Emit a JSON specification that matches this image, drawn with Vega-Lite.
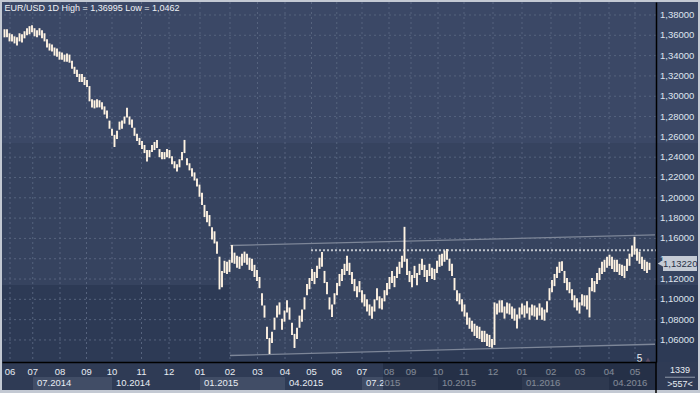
{
"$schema": "https://vega.github.io/schema/vega-lite/v6.json",
"width": 654, "height": 360,
"autosize": {"type": "none"},
"padding": {"left": 2, "top": 2, "right": 44, "bottom": 31},
"background": "#c3c9d3",
"config": {
  "view": {"stroke": null},
  "font": "Liberation Sans",
  "locale": {"number": {"decimal": ",", "thousands": ".", "grouping": [3], "currency": ["", "€"]}}
},
"datasets": {
  "one": [{}],
  "bars": [
{"d":2,"lo":1.358,"hi":1.366},{"d":4,"lo":1.358,"hi":1.366},{"d":6,"lo":1.354,"hi":1.362},{"d":8,"lo":1.354,"hi":1.361},{"d":10,"lo":1.352,"hi":1.359},
{"d":12,"lo":1.350,"hi":1.358},{"d":14,"lo":1.354,"hi":1.362},{"d":16,"lo":1.353,"hi":1.361},{"d":18,"lo":1.357,"hi":1.364},{"d":20,"lo":1.360,"hi":1.367},
{"d":22,"lo":1.361,"hi":1.369},{"d":24,"lo":1.363,"hi":1.36995},{"d":26,"lo":1.359,"hi":1.367},{"d":28,"lo":1.358,"hi":1.365},{"d":30,"lo":1.360,"hi":1.367},
{"d":32,"lo":1.357,"hi":1.365},{"d":34,"lo":1.354,"hi":1.362},{"d":36,"lo":1.348,"hi":1.356},{"d":38,"lo":1.345,"hi":1.352},{"d":40,"lo":1.344,"hi":1.351},
{"d":42,"lo":1.340,"hi":1.348},{"d":44,"lo":1.339,"hi":1.347},{"d":46,"lo":1.336,"hi":1.344},{"d":48,"lo":1.336,"hi":1.343},{"d":50,"lo":1.334,"hi":1.341},
{"d":52,"lo":1.334,"hi":1.342},{"d":54,"lo":1.333,"hi":1.341},{"d":56,"lo":1.327,"hi":1.335},{"d":58,"lo":1.322,"hi":1.329},{"d":60,"lo":1.319,"hi":1.326},
{"d":62,"lo":1.314,"hi":1.322},{"d":64,"lo":1.314,"hi":1.322},{"d":66,"lo":1.311,"hi":1.319},{"d":68,"lo":1.309,"hi":1.316},{"d":70,"lo":1.295,"hi":1.310},
{"d":72,"lo":1.289,"hi":1.297},{"d":74,"lo":1.288,"hi":1.296},{"d":76,"lo":1.289,"hi":1.297},{"d":78,"lo":1.289,"hi":1.296},{"d":80,"lo":1.287,"hi":1.294},
{"d":82,"lo":1.282,"hi":1.290},{"d":84,"lo":1.278,"hi":1.286},{"d":86,"lo":1.268,"hi":1.276},{"d":88,"lo":1.261,"hi":1.268},{"d":90,"lo":1.250,"hi":1.262},
{"d":92,"lo":1.258,"hi":1.266},{"d":94,"lo":1.267,"hi":1.275},{"d":96,"lo":1.268,"hi":1.276},{"d":98,"lo":1.273,"hi":1.280},{"d":100,"lo":1.279,"hi":1.2887},
{"d":102,"lo":1.272,"hi":1.280},{"d":104,"lo":1.269,"hi":1.277},{"d":106,"lo":1.261,"hi":1.269},{"d":108,"lo":1.256,"hi":1.263},{"d":110,"lo":1.252,"hi":1.259},
{"d":112,"lo":1.248,"hi":1.256},{"d":114,"lo":1.244,"hi":1.252},{"d":116,"lo":1.2358,"hi":1.247},{"d":118,"lo":1.240,"hi":1.247},{"d":120,"lo":1.245,"hi":1.252},
{"d":122,"lo":1.247,"hi":1.255},{"d":124,"lo":1.249,"hi":1.257},{"d":126,"lo":1.240,"hi":1.248},{"d":128,"lo":1.238,"hi":1.245},{"d":130,"lo":1.238,"hi":1.245},
{"d":132,"lo":1.240,"hi":1.248},{"d":134,"lo":1.239,"hi":1.247},{"d":136,"lo":1.233,"hi":1.241},{"d":138,"lo":1.229,"hi":1.236},{"d":140,"lo":1.226,"hi":1.233},
{"d":142,"lo":1.230,"hi":1.238},{"d":144,"lo":1.237,"hi":1.245},{"d":146,"lo":1.244,"hi":1.257},{"d":148,"lo":1.232,"hi":1.239},{"d":150,"lo":1.227,"hi":1.234},
{"d":152,"lo":1.221,"hi":1.229},{"d":154,"lo":1.217,"hi":1.225},{"d":156,"lo":1.211,"hi":1.219},
{"d":158,"lo":1.201,"hi":1.213},{"d":160,"lo":1.193,"hi":1.205},{"d":162,"lo":1.181,"hi":1.193},{"d":164,"lo":1.176,"hi":1.187},{"d":166,"lo":1.172,"hi":1.183},
{"d":168,"lo":1.159,"hi":1.171},{"d":170,"lo":1.155,"hi":1.167},{"d":172,"lo":1.145,"hi":1.157},{"d":174,"lo":1.1098,"hi":1.142},{"d":176,"lo":1.112,"hi":1.128},
{"d":178,"lo":1.126,"hi":1.138},{"d":180,"lo":1.125,"hi":1.137},{"d":182,"lo":1.127,"hi":1.139},{"d":184,"lo":1.136,"hi":1.1535},{"d":186,"lo":1.135,"hi":1.146},
{"d":188,"lo":1.131,"hi":1.143},{"d":190,"lo":1.130,"hi":1.142},{"d":192,"lo":1.133,"hi":1.145},{"d":194,"lo":1.136,"hi":1.147},{"d":196,"lo":1.134,"hi":1.145},
{"d":198,"lo":1.129,"hi":1.141},{"d":200,"lo":1.128,"hi":1.140},{"d":202,"lo":1.122,"hi":1.134},{"d":204,"lo":1.118,"hi":1.129},{"d":206,"lo":1.111,"hi":1.122},
{"d":208,"lo":1.094,"hi":1.106},{"d":210,"lo":1.082,"hi":1.094},{"d":212,"lo":1.061,"hi":1.073},{"d":214,"lo":1.0462,"hi":1.062},{"d":216,"lo":1.057,"hi":1.068},
{"d":218,"lo":1.070,"hi":1.082},{"d":220,"lo":1.082,"hi":1.094},{"d":222,"lo":1.085,"hi":1.097},{"d":224,"lo":1.070,"hi":1.081},{"d":226,"lo":1.078,"hi":1.089},
{"d":228,"lo":1.087,"hi":1.099},{"d":230,"lo":1.080,"hi":1.092},{"d":232,"lo":1.065,"hi":1.077},{"d":234,"lo":1.0521,"hi":1.066},{"d":236,"lo":1.061,"hi":1.072},
{"d":238,"lo":1.072,"hi":1.084},{"d":240,"lo":1.078,"hi":1.090},{"d":242,"lo":1.090,"hi":1.102},{"d":244,"lo":1.104,"hi":1.115},{"d":246,"lo":1.110,"hi":1.121},
{"d":248,"lo":1.118,"hi":1.130},{"d":250,"lo":1.115,"hi":1.127},{"d":252,"lo":1.121,"hi":1.133},{"d":254,"lo":1.130,"hi":1.141},{"d":256,"lo":1.132,"hi":1.1467},
{"d":258,"lo":1.116,"hi":1.128},{"d":260,"lo":1.105,"hi":1.117},{"d":262,"lo":1.090,"hi":1.102},{"d":264,"lo":1.0825,"hi":1.095},{"d":266,"lo":1.095,"hi":1.106},
{"d":268,"lo":1.104,"hi":1.116},{"d":270,"lo":1.113,"hi":1.125},{"d":272,"lo":1.118,"hi":1.130},{"d":274,"lo":1.124,"hi":1.135},{"d":276,"lo":1.128,"hi":1.143},
{"d":278,"lo":1.124,"hi":1.136},{"d":280,"lo":1.115,"hi":1.127},{"d":282,"lo":1.108,"hi":1.120},{"d":284,"lo":1.102,"hi":1.113},{"d":286,"lo":1.107,"hi":1.118},
{"d":288,"lo":1.097,"hi":1.109},{"d":290,"lo":1.093,"hi":1.105},{"d":292,"lo":1.088,"hi":1.100},{"d":294,"lo":1.084,"hi":1.095},{"d":296,"lo":1.0809,"hi":1.093},
{"d":298,"lo":1.088,"hi":1.100},{"d":300,"lo":1.099,"hi":1.111},{"d":302,"lo":1.091,"hi":1.103},{"d":304,"lo":1.090,"hi":1.101},{"d":306,"lo":1.098,"hi":1.109},
{"d":308,"lo":1.104,"hi":1.116},{"d":310,"lo":1.110,"hi":1.122},{"d":312,"lo":1.116,"hi":1.128},{"d":314,"lo":1.112,"hi":1.123},{"d":316,"lo":1.121,"hi":1.132},
{"d":318,"lo":1.125,"hi":1.137},{"d":320,"lo":1.131,"hi":1.143},{"d":322,"lo":1.137,"hi":1.1714},{"d":324,"lo":1.124,"hi":1.140},{"d":326,"lo":1.117,"hi":1.128},
{"d":328,"lo":1.112,"hi":1.124},{"d":330,"lo":1.121,"hi":1.133},{"d":332,"lo":1.114,"hi":1.126},{"d":334,"lo":1.124,"hi":1.135},{"d":336,"lo":1.129,"hi":1.140},
{"d":338,"lo":1.122,"hi":1.134},{"d":340,"lo":1.117,"hi":1.129},{"d":342,"lo":1.123,"hi":1.135},{"d":344,"lo":1.120,"hi":1.131},{"d":346,"lo":1.119,"hi":1.130},
{"d":348,"lo":1.126,"hi":1.138},{"d":350,"lo":1.132,"hi":1.144},{"d":352,"lo":1.133,"hi":1.145},{"d":354,"lo":1.137,"hi":1.148},{"d":356,"lo":1.139,"hi":1.1495},
{"d":358,"lo":1.128,"hi":1.140},{"d":360,"lo":1.123,"hi":1.135},{"d":362,"lo":1.109,"hi":1.121},{"d":364,"lo":1.098,"hi":1.109},{"d":366,"lo":1.095,"hi":1.106},
{"d":368,"lo":1.088,"hi":1.100},{"d":370,"lo":1.083,"hi":1.095},{"d":372,"lo":1.075,"hi":1.087},{"d":374,"lo":1.071,"hi":1.082},{"d":376,"lo":1.068,"hi":1.079},
{"d":378,"lo":1.064,"hi":1.076},{"d":380,"lo":1.062,"hi":1.074},{"d":382,"lo":1.061,"hi":1.073},{"d":384,"lo":1.058,"hi":1.069},{"d":386,"lo":1.058,"hi":1.069},
{"d":388,"lo":1.054,"hi":1.066},{"d":390,"lo":1.053,"hi":1.065},{"d":392,"lo":1.0524,"hi":1.061},{"d":394,"lo":1.055,"hi":1.097},{"d":396,"lo":1.085,"hi":1.096},
{"d":398,"lo":1.087,"hi":1.099},{"d":400,"lo":1.087,"hi":1.099},{"d":402,"lo":1.081,"hi":1.093},{"d":404,"lo":1.086,"hi":1.097},{"d":406,"lo":1.085,"hi":1.096},
{"d":408,"lo":1.081,"hi":1.093},{"d":410,"lo":1.079,"hi":1.091},{"d":412,"lo":1.0712,"hi":1.085},{"d":414,"lo":1.081,"hi":1.092},{"d":416,"lo":1.085,"hi":1.096},
{"d":418,"lo":1.082,"hi":1.094},{"d":420,"lo":1.086,"hi":1.098},{"d":422,"lo":1.080,"hi":1.092},{"d":424,"lo":1.084,"hi":1.095},{"d":426,"lo":1.083,"hi":1.094},
{"d":428,"lo":1.080,"hi":1.092},{"d":430,"lo":1.084,"hi":1.096},{"d":432,"lo":1.080,"hi":1.092},{"d":434,"lo":1.079,"hi":1.090},{"d":436,"lo":1.087,"hi":1.098},
{"d":438,"lo":1.099,"hi":1.111},{"d":440,"lo":1.107,"hi":1.119},{"d":442,"lo":1.113,"hi":1.125},{"d":444,"lo":1.121,"hi":1.132},{"d":446,"lo":1.126,"hi":1.137},
{"d":448,"lo":1.128,"hi":1.1376},{"d":450,"lo":1.116,"hi":1.128},{"d":452,"lo":1.109,"hi":1.121},{"d":454,"lo":1.106,"hi":1.117},{"d":456,"lo":1.099,"hi":1.110},
{"d":458,"lo":1.092,"hi":1.104},{"d":460,"lo":1.089,"hi":1.101},{"d":462,"lo":1.086,"hi":1.097},{"d":464,"lo":1.094,"hi":1.105},{"d":466,"lo":1.093,"hi":1.104},
{"d":468,"lo":1.090,"hi":1.104},{"d":470,"lo":1.0822,"hi":1.112},{"d":472,"lo":1.108,"hi":1.121},{"d":474,"lo":1.107,"hi":1.118},{"d":476,"lo":1.115,"hi":1.126},
{"d":478,"lo":1.119,"hi":1.131},{"d":480,"lo":1.125,"hi":1.137},{"d":482,"lo":1.127,"hi":1.139},{"d":484,"lo":1.131,"hi":1.142},{"d":486,"lo":1.133,"hi":1.144},
{"d":488,"lo":1.130,"hi":1.142},{"d":490,"lo":1.127,"hi":1.139},{"d":492,"lo":1.127,"hi":1.139},{"d":494,"lo":1.124,"hi":1.135},{"d":496,"lo":1.123,"hi":1.134},
{"d":498,"lo":1.121,"hi":1.133},{"d":500,"lo":1.128,"hi":1.140},{"d":502,"lo":1.133,"hi":1.145},{"d":504,"lo":1.142,"hi":1.153},{"d":506,"lo":1.144,"hi":1.1616},
{"d":508,"lo":1.138,"hi":1.150},{"d":510,"lo":1.135,"hi":1.147},{"d":512,"lo":1.130,"hi":1.142},{"d":514,"lo":1.128,"hi":1.139},{"d":516,"lo":1.126,"hi":1.137},
{"d":518,"lo":1.129,"hi":1.136}
  ],
  "ticks": [{"v":1.06},{"v":1.08},{"v":1.10},{"v":1.12},{"v":1.14},{"v":1.16},{"v":1.18},{"v":1.20},{"v":1.22},{"v":1.24},{"v":1.26},{"v":1.28},{"v":1.30},{"v":1.32},{"v":1.34},{"v":1.36},{"v":1.38}],
  "months": [{"d":6.4,"lab":"06"},{"d":24.6,"lab":"07"},{"d":46.4,"lab":"08"},{"d":67.6,"lab":"09"},{"d":88,"lab":"10"},{"d":111.6,"lab":"11"},{"d":133.6,"lab":"12"},{"d":158.4,"lab":"01"},{"d":182.4,"lab":"02"},{"d":204.4,"lab":"03"},{"d":226.4,"lab":"04"},{"d":247.6,"lab":"05"},{"d":267.8,"lab":"06"},{"d":288,"lab":"07"},{"d":309.6,"lab":"08"},{"d":327.2,"lab":"09"},{"d":348.8,"lab":"10"},{"d":369.6,"lab":"11"},{"d":392.8,"lab":"12"},{"d":416,"lab":"01"},{"d":439.2,"lab":"02"},{"d":462.4,"lab":"03"},{"d":485.6,"lab":"04"},{"d":506.4,"lab":"05"}],
  "quarters": [{"d":24.8,"d2":88,"lab":"07.2014"},{"d":88,"d2":158.4,"lab":"10.2014"},{"d":158.4,"d2":226.4,"lab":"01.2015"},{"d":226.4,"d2":288,"lab":"04.2015"},{"d":288,"d2":348.8,"lab":"07.2015"},{"d":348.8,"d2":416,"lab":"10.2015"},{"d":416,"d2":485.6,"lab":"01.2016"},{"d":485.6,"d2":523.2,"lab":"04.2016"}],
  "channel": [{"d":182.4,"up":1.1530,"lo":1.0447},{"d":522.4,"up":1.1634,"lo":1.0558}],
  "level": [{"d1":247.2,"d2":523.2,"p":1.1483}],
  "last": [{"p":1.1322}]
},
"layer": [
  {"data": {"name": "one"}, "mark": {"type": "rect", "color": "#3b4866"}, "encoding": {"x": {"datum": 0, "type": "quantitative", "scale": {"domain": [0, 523.2], "nice": false, "zero": false}}, "x2": {"datum": 556.8}, "y": {"datum": 1.3928, "type": "quantitative", "scale": {"domain": [1.0383, 1.3928], "nice": false, "zero": false}}, "y2": {"datum": 1.2540}}},
  {"data": {"name": "one"}, "mark": {"type": "rect", "color": "#36435f"}, "encoding": {"x": {"datum": 0, "type": "quantitative"}, "x2": {"datum": 556.8}, "y": {"datum": 1.2540, "type": "quantitative"}, "y2": {"datum": 1.1141}}},
  {"data": {"name": "one"}, "mark": {"type": "rect", "color": "#2d3a55"}, "encoding": {"x": {"datum": 0, "type": "quantitative"}, "x2": {"datum": 556.8}, "y": {"datum": 1.1141, "type": "quantitative"}, "y2": {"datum": 1.0383}}},
  {"data": {"name": "one"}, "mark": {"type": "rect", "color": "#2f3b55"}, "encoding": {"x": {"datum": 0, "type": "quantitative"}, "x2": {"datum": 556.8}, "y": {"datum": 1.0383, "type": "quantitative"}, "y2": {"datum": 1.0107}}},
  {"data": {"name": "channel"}, "mark": {"type": "area", "color": "#37445f"}, "encoding": {"x": {"field": "d", "type": "quantitative"}, "y": {"field": "lo", "type": "quantitative"}, "y2": {"field": "up"}}},
  {"data": {"name": "ticks"}, "mark": {"type": "rule", "color": "#56637e", "strokeDash": [2, 3], "strokeWidth": 1}, "encoding": {"y": {"field": "v", "type": "quantitative"}}},
  {"data": {"name": "months"}, "mark": {"type": "rule", "color": "#56637e", "strokeDash": [2, 3], "strokeWidth": 1}, "encoding": {"x": {"field": "d", "type": "quantitative"}}},
  {"data": {"name": "channel"}, "mark": {"type": "line", "color": "#7d8698", "strokeWidth": 1.3}, "encoding": {"x": {"field": "d", "type": "quantitative"}, "y": {"field": "up", "type": "quantitative"}}},
  {"data": {"name": "channel"}, "mark": {"type": "line", "color": "#7d8698", "strokeWidth": 1.3}, "encoding": {"x": {"field": "d", "type": "quantitative"}, "y": {"field": "lo", "type": "quantitative"}}},
  {"data": {"name": "level"}, "mark": {"type": "rule", "color": "#bfc3cb", "strokeDash": [2, 2], "strokeWidth": 2}, "encoding": {"x": {"field": "d1", "type": "quantitative"}, "x2": {"field": "d2"}, "y": {"field": "p", "type": "quantitative"}}},
  {"data": {"name": "bars"}, "mark": {"type": "rule", "color": "#fff3e2", "strokeWidth": 1.9},
   "encoding": {
     "x": {"field": "d", "type": "quantitative", "axis": {"title": null, "labels": false, "ticks": false, "grid": false, "domainColor": "#000000", "domainWidth": 1.5, "zindex": 1}},
     "y": {"field": "lo", "type": "quantitative", "axis": {"orient": "right", "title": null, "labels": false, "ticks": false, "grid": false, "domainColor": "#000000", "domainWidth": 1.5, "zindex": 1}},
     "y2": {"field": "hi"}}},
  {"data": {"name": "one"}, "mark": {"type": "text", "align": "left", "baseline": "middle", "fontSize": 9, "color": "#eef1f5", "font": "Liberation Sans"}, "encoding": {"x": {"datum": 2, "type": "quantitative"}, "y": {"datum": 1.3869, "type": "quantitative"}, "text": {"value": "EUR/USD 1D High = 1,36995 Low = 1,0462"}}},
  {"data": {"name": "one"}, "mark": {"type": "text", "align": "center", "baseline": "middle", "fontSize": 10, "color": "#e8ecf2"}, "encoding": {"x": {"datum": 510, "type": "quantitative"}, "y": {"datum": 1.0417, "type": "quantitative"}, "text": {"value": "5"}}},
  {"data": {"name": "one"}, "mark": {"type": "point", "shape": "triangle-up", "filled": true, "size": 25, "color": "#5e5068", "opacity": 1}, "encoding": {"x": {"datum": 516.8, "type": "quantitative"}, "y": {"datum": 1.0405, "type": "quantitative"}}},
  {"data": {"name": "ticks"}, "mark": {"type": "text", "align": "left", "baseline": "middle", "fontSize": 9.5, "color": "#dfe4ee"}, "encoding": {"x": {"datum": 526.4, "type": "quantitative"}, "y": {"field": "v", "type": "quantitative"}, "text": {"field": "v", "format": ".5f"}}},
  {"data": {"name": "quarters"}, "transform": [{"filter": "slice(datum.lab, 0, 2) == '07' || slice(datum.lab, 0, 2) == '01'"}], "mark": {"type": "rect", "color": "#414d66"}, "encoding": {"x": {"field": "d", "type": "quantitative"}, "x2": {"field": "d2"}, "y": {"datum": 1.02353, "type": "quantitative"}, "y2": {"datum": 1.01072}}},
  {"data": {"name": "months"}, "mark": {"type": "text", "align": "center", "baseline": "middle", "fontSize": 9.5, "color": "#e8ecf3"}, "encoding": {"x": {"field": "d", "type": "quantitative"}, "y": {"datum": 1.02845, "type": "quantitative"}, "text": {"field": "lab"}}},
  {"data": {"name": "quarters"}, "mark": {"type": "text", "align": "left", "baseline": "middle", "fontSize": 9.5, "color": "#e8ecf3", "dx": 4}, "encoding": {"x": {"field": "d", "type": "quantitative"}, "y": {"datum": 1.01713, "type": "quantitative"}, "text": {"field": "lab"}}},
  {"data": {"name": "one"}, "mark": {"type": "rect", "color": "#1b263a", "opacity": 0.5}, "encoding": {"x": {"datum": 304.8, "type": "quantitative"}, "x2": {"datum": 523.2}, "y": {"datum": 1.0373, "type": "quantitative"}, "y2": {"datum": 1.0107}}},
  {"data": {"name": "one"}, "mark": {"type": "text", "align": "center", "baseline": "middle", "fontSize": 9, "color": "#e8ecf3"}, "encoding": {"x": {"datum": 542.4, "type": "quantitative"}, "y": {"datum": 1.0306, "type": "quantitative"}, "text": {"value": "1339"}}},
  {"data": {"name": "one"}, "mark": {"type": "text", "align": "center", "baseline": "middle", "fontSize": 9, "color": "#e8ecf3"}, "encoding": {"x": {"datum": 542.4, "type": "quantitative"}, "y": {"datum": 1.0164, "type": "quantitative"}, "text": {"value": ">557<"}}},
  {"data": {"name": "one"}, "mark": {"type": "rule", "color": "#8f99aa", "strokeWidth": 1}, "encoding": {"x": {"datum": 530.4, "type": "quantitative"}, "x2": {"datum": 554.4}, "y": {"datum": 1.0233, "type": "quantitative"}}},
  {"data": {"name": "one"}, "mark": {"type": "rule", "color": "#000000", "strokeWidth": 1.5}, "encoding": {"x": {"datum": 523.2, "type": "quantitative"}, "y": {"datum": 1.0383, "type": "quantitative"}, "y2": {"datum": 1.0075}}},
  {"data": {"name": "one"}, "mark": {"type": "rect", "color": "#c5cbd5"}, "encoding": {"x": {"datum": 528.8, "type": "quantitative"}, "x2": {"datum": 556}, "y": {"datum": 1.1427, "type": "quantitative"}, "y2": {"datum": 1.1279}}},
  {"data": {"name": "one"}, "mark": {"type": "point", "shape": "triangle-left", "filled": true, "size": 50, "color": "#c5cbd5", "opacity": 1}, "encoding": {"x": {"datum": 527, "type": "quantitative"}, "y": {"datum": 1.1353, "type": "quantitative"}}},
  {"data": {"name": "last"}, "mark": {"type": "text", "align": "center", "baseline": "middle", "fontSize": 9.5, "color": "#2a3247", "dy": -3}, "encoding": {"x": {"datum": 542.6, "type": "quantitative"}, "y": {"field": "p", "type": "quantitative"}, "text": {"field": "p", "format": ".5f"}}}
]
}
